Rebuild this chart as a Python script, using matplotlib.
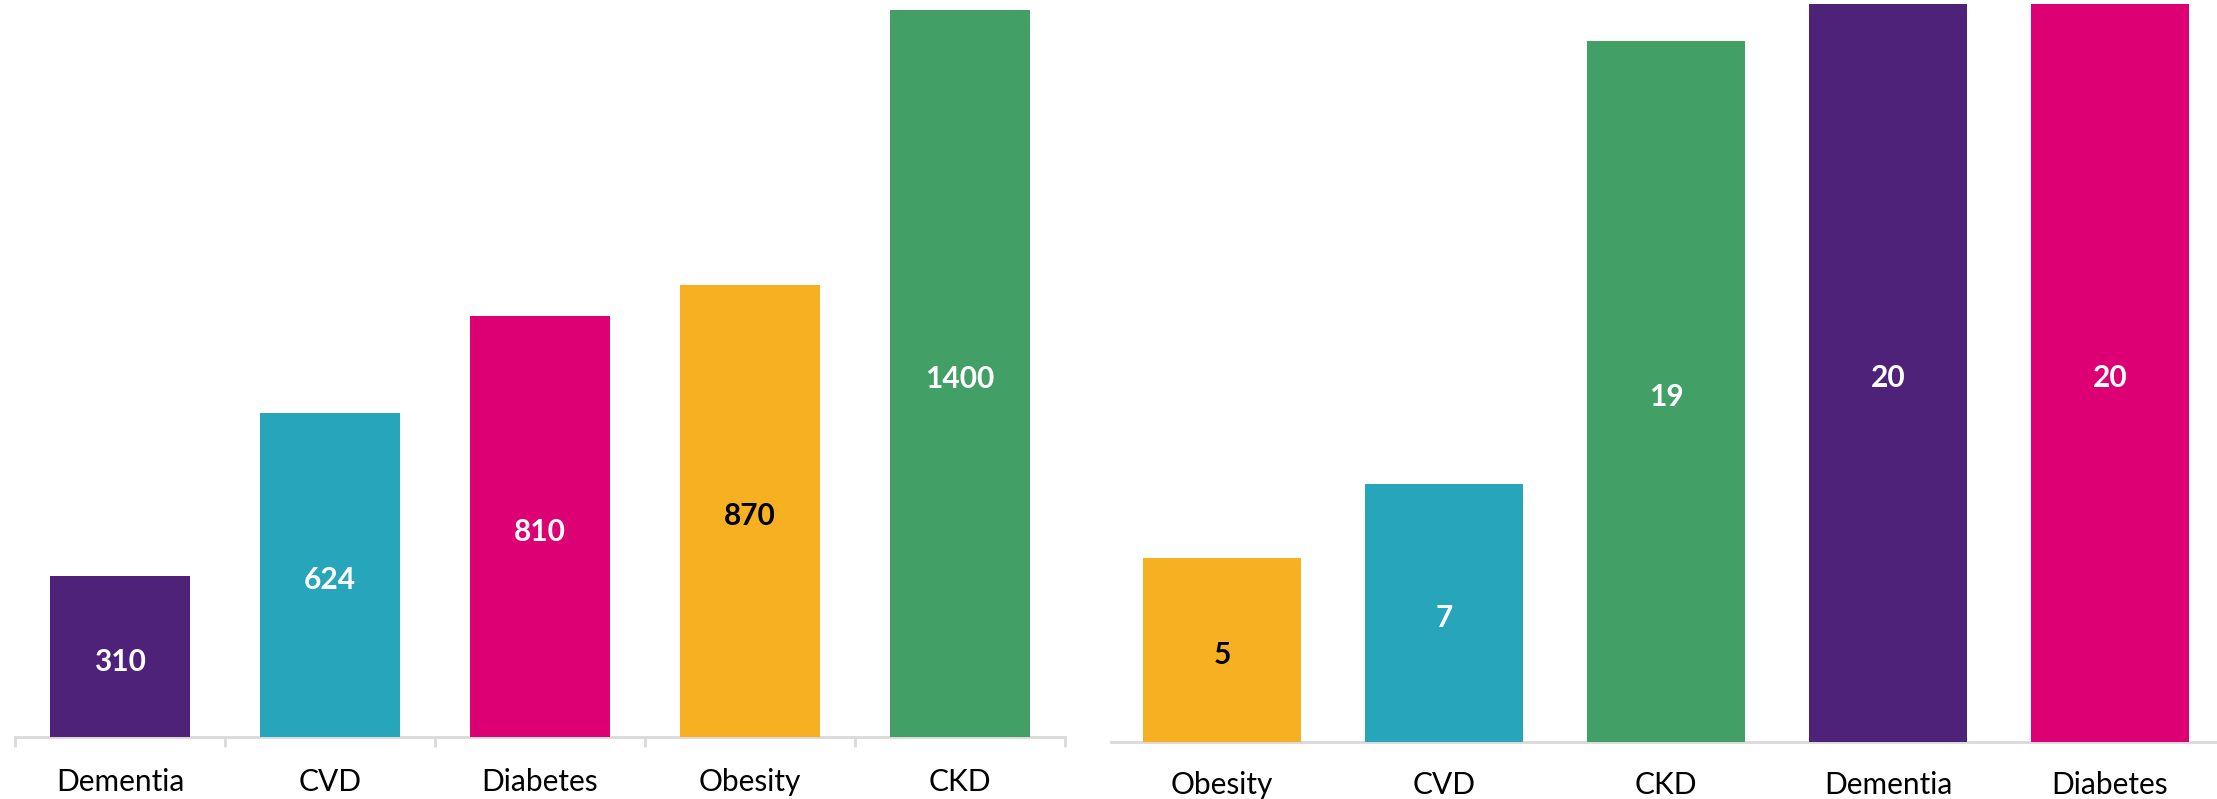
import matplotlib
matplotlib.use("Agg")
import matplotlib.pyplot as plt

plt.rcParams['font.family'] = ['Lato', 'DejaVu Sans']

# Left panel data
left_categories = ["Dementia", "CVD", "Diabetes", "Obesity", "CKD"]
left_values = [310, 624, 810, 870, 1400]
left_colors = ["#4E2278", "#26A5BB", "#DD0074", "#F8B023", "#42A066"]
left_label_colors = ["white", "white", "white", "black", "white"]

# Right panel data
right_categories = ["Obesity", "CVD", "CKD", "Dementia", "Diabetes"]
right_values = [5, 7, 19, 20, 20]
right_colors = ["#F8B023", "#26A5BB", "#42A066", "#4E2278", "#DD0074"]
right_label_colors = ["black", "white", "white", "white", "white"]

W, H = 2217, 799
fig = plt.figure(figsize=(W / 100, H / 100), dpi=100)

GRAY = "#D9D9D9"
FS = 21.5


def panel(rect, cats, vals, colors, lcolors, ymax, width, ticklen, pad):
    ax = fig.add_axes(rect)
    x = list(range(len(cats)))
    ax.bar(x, vals, width=width, color=colors, zorder=3)
    for xi, v, c in zip(x, vals, lcolors):
        ax.annotate(str(v), (xi, v / 2), xytext=(0, -2),
                    textcoords="offset points", ha="center",
                    va="center_baseline", color=c,
                    fontsize=FS, fontweight="bold", zorder=4)
    ax.set_xlim(-0.5, len(cats) - 0.5)
    ax.set_ylim(0, ymax)
    for s in ["top", "right", "left"]:
        ax.spines[s].set_visible(False)
    ax.spines["bottom"].set_color(GRAY)
    ax.spines["bottom"].set_linewidth(2)
    ax.set_yticks([])
    ax.set_xticks(x)
    ax.set_xticklabels(cats, fontsize=FS, color="black")
    ax.tick_params(axis="x", length=0, pad=pad)
    if ticklen > 0:
        bounds = [i - 0.5 for i in range(len(cats) + 1)]
        ax.set_xticks(bounds, minor=True)
        ax.tick_params(axis="x", which="minor", length=ticklen, width=2,
                       color=GRAY)
    return ax


# Left axes: x 15..1065 px, bottom at 737 px, top at 0
l_left, l_right, l_bottom = 15, 1065, 737
panel([l_left / W, (H - l_bottom) / H, (l_right - l_left) / W, l_bottom / H],
      left_categories, left_values, left_colors, left_label_colors,
      ymax=1419, width=0.667, ticklen=7.2, pad=22)

# Right axes: x 1111..2221 px, bottom at 742 px
r_left, r_right, r_bottom = 1111, 2221, 742
panel([r_left / W, (H - r_bottom) / H, (r_right - r_left) / W, r_bottom / H],
      right_categories, right_values, right_colors, right_label_colors,
      ymax=20.11, width=0.71, ticklen=0, pad=21)

fig.savefig("out.png", dpi=100, facecolor="white")
